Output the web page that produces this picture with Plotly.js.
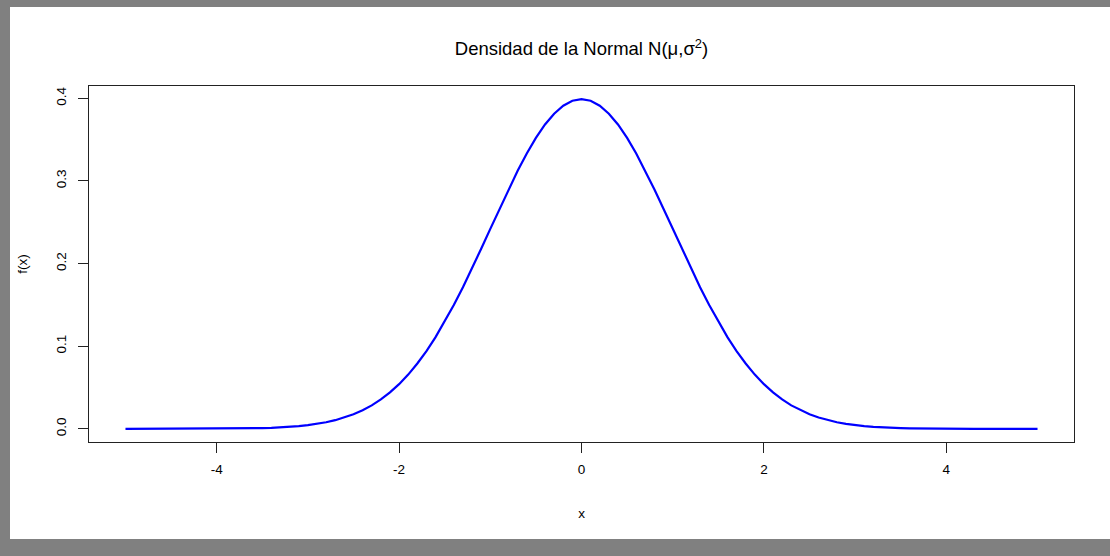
<!DOCTYPE html>
<html>
<head>
<meta charset="utf-8">
<script src="https://cdn.plot.ly/plotly-3.0.1.min.js"></script>
<style>
html, body { margin: 0; padding: 0; background: #808080; width: 1110px; height: 556px; overflow: hidden; }
#chart { position: absolute; left: 10px; top: 7px; width: 1100px; height: 532px; background: #ffffff; }
</style>
</head>
<body>
<div id="chart"></div>
<script>
const xValues = [
 -5.0,-4.9,-4.8,-4.7,-4.6,-4.5,-4.4,-4.3,-4.2,-4.1,
 -4.0,-3.9,-3.8,-3.7,-3.6,-3.5,-3.4,-3.3,-3.2,-3.1,
 -3.0,-2.9,-2.8,-2.7,-2.6,-2.5,-2.4,-2.3,-2.2,-2.1,
 -2.0,-1.9,-1.8,-1.7,-1.6,-1.5,-1.4,-1.3,-1.2,-1.1,
 -1.0,-0.9,-0.8,-0.7,-0.6,-0.5,-0.4,-0.3,-0.2,-0.1,
 0.0,0.1,0.2,0.3,0.4,0.5,0.6,0.7,0.8,0.9,
 1.0,1.1,1.2,1.3,1.4,1.5,1.6,1.7,1.8,1.9,
 2.0,2.1,2.2,2.3,2.4,2.5,2.6,2.7,2.8,2.9,
 3.0,3.1,3.2,3.3,3.4,3.5,3.6,3.7,3.8,3.9,
 4.0,4.1,4.2,4.3,4.4,4.5,4.6,4.7,4.8,4.9,5.0
];
const densityValues = [
 0.0000,0.0000,0.0000,0.0000,0.0000,0.0000,0.0000,0.0000,0.0001,0.0001,
 0.0001,0.0002,0.0003,0.0004,0.0006,0.0009,0.0012,0.0017,0.0024,0.0033,
 0.0044,0.0060,0.0079,0.0104,0.0136,0.0175,0.0224,0.0283,0.0355,0.0440,
 0.0540,0.0656,0.0790,0.0940,0.1109,0.1295,0.1497,0.1714,0.1942,0.2179,
 0.2420,0.2661,0.2897,0.3123,0.3332,0.3521,0.3683,0.3814,0.3910,0.3970,
 0.3989,0.3970,0.3910,0.3814,0.3683,0.3521,0.3332,0.3123,0.2897,0.2661,
 0.2420,0.2179,0.1942,0.1714,0.1497,0.1295,0.1109,0.0940,0.0790,0.0656,
 0.0540,0.0440,0.0355,0.0283,0.0224,0.0175,0.0136,0.0104,0.0079,0.0060,
 0.0044,0.0033,0.0024,0.0017,0.0012,0.0009,0.0006,0.0004,0.0003,0.0002,
 0.0001,0.0001,0.0001,0.0000,0.0000,0.0000,0.0000,0.0000,0.0000,0.0000,0.0000
];
const xTicks = [-4, -2, 0, 2, 4];
const xTickLabels = ["-4", "-2", "0", "2", "4"];
const yTicks = [0.0, 0.1, 0.2, 0.3, 0.4];
const yTickLabels = ["0.0", "0.1", "0.2", "0.3", "0.4"];
const titleText = "Densidad de la Normal N(\u03bc,\u03c3<sup>2</sup>)";
const xLabel = "x";
const yLabel = "f(x)";

const font = "Liberation Sans, Arial, sans-serif";

const trace = {
  x: xValues,
  y: densityValues,
  type: "scatter",
  mode: "lines",
  line: { color: "#0000ff", width: 2.2, shape: "linear" },
  hoverinfo: "skip"
};

const layout = {
  width: 1100,
  height: 532,
  paper_bgcolor: "#ffffff",
  plot_bgcolor: "#ffffff",
  margin: { l: 79, r: 36, t: 79, b: 97 },
  showlegend: false,
  font: { family: font, size: 13.5, color: "#000000" },
  title: {
    text: titleText,
    font: { family: font, size: 18.5, color: "#000000" },
    xref: "paper", x: 0.5, xanchor: "center",
    yref: "container", y: 1 - 42 / 532, yanchor: "middle"
  },
  xaxis: {
    range: [-5.4, 5.4],
    tickvals: xTicks,
    ticktext: xTickLabels,
    ticks: "outside",
    ticklen: 10,
    tickwidth: 1,
    tickcolor: "#222222",
    ticklabelstandoff: 5,
    showgrid: false,
    zeroline: false,
    showline: true,
    linecolor: "#222222",
    linewidth: 1,
    mirror: true,
    tickfont: { family: font, size: 13.5, color: "#000000" },
    title: { text: xLabel, font: { family: font, size: 13.5, color: "#000000" }, standoff: 32 }
  },
  yaxis: {
    range: [-0.016, 0.4149],
    tickvals: yTicks,
    ticktext: yTickLabels,
    ticks: "outside",
    ticklen: 10,
    tickwidth: 1,
    tickcolor: "#222222",
    tickangle: -90,
    ticklabelstandoff: 7,
    showgrid: false,
    zeroline: false,
    showline: true,
    linecolor: "#222222",
    linewidth: 1,
    mirror: true,
    tickfont: { family: font, size: 13.5, color: "#000000" },
    title: { text: yLabel, font: { family: font, size: 13.5, color: "#000000" }, standoff: 22 }
  }
};

Plotly.newPlot("chart", [trace], layout, { displayModeBar: false, staticPlot: true });
</script>
</body>
</html>
